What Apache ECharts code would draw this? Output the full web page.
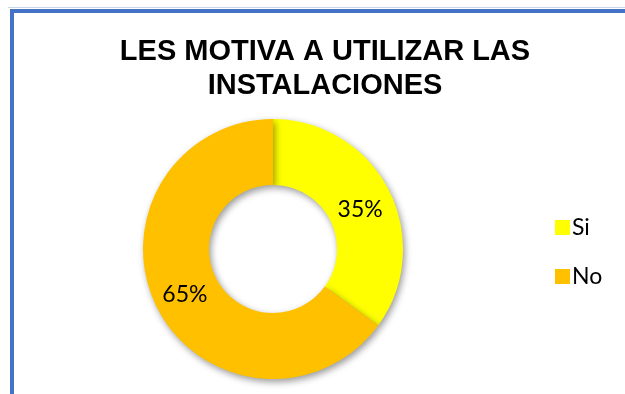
<!DOCTYPE html>
<html>
<head>
<meta charset="utf-8">
<script src="https://cdn.jsdelivr.net/npm/echarts@6/dist/echarts.min.js"></script>
<style>
  html, body { margin: 0; padding: 0; background: #fff; }
  #chart { width: 625px; height: 394px; }
</style>
</head>
<body>
<div id="chart"></div>
<script>
// Survey answers
const categories = ['Si', 'No'];
const shares = [35, 65];
const sliceColors = ['#FFFF00', '#FFC000'];
const chartTitle = 'LES MOTIVA A UTILIZAR LAS\nINSTALACIONES';

const chart = echarts.init(document.getElementById('chart'), null, { renderer: 'canvas' });

// nudge of each percentage label inside its slice
const labelNudge = [[-2, 6], [1, 0]];

const pieData = categories.map((name, i) => ({
  name: name,
  value: shares[i],
  itemStyle: { color: sliceColors[i] },
  label: { offset: labelNudge[i] }
}));

chart.setOption({
  backgroundColor: '#ffffff',
  animation: false,
  graphic: [
    // blue frame along the top and left edges
    { type: 'rect', shape: { x: 10, y: 9, width: 640, height: 4 }, style: { fill: '#4472C4' } },
    { type: 'rect', shape: { x: 10, y: 9, width: 4, height: 400 }, style: { fill: '#4472C4' } },
    { type: 'rect', shape: { x: 8, y: 7, width: 640, height: 1 }, style: { fill: '#C9D6EE' } }
  ],
  title: {
    text: chartTitle,
    left: 320,
    top: 30,
    textAlign: 'center',
    textStyle: {
      fontFamily: 'Liberation Sans',
      fontWeight: 'bold',
      fontSize: 29,
      lineHeight: 34,
      color: '#000000'
    }
  },
  legend: {
    orient: 'vertical',
    left: 550,
    top: 210,
    itemWidth: 15,
    itemHeight: 15,
    itemGap: 24,
    icon: 'rect',
    data: categories,
    textStyle: {
      fontFamily: 'Lato',
      fontSize: 23,
      lineHeight: 25,
      color: '#000000',
      padding: [0, 0, 0, -3]
    }
  },
  series: [{
    type: 'pie',
    center: [273, 249],
    radius: [64, 130],
    startAngle: 90,
    clockwise: true,
    silent: true,
    data: pieData,
    itemStyle: {
      shadowBlur: 7,
      shadowOffsetX: 2,
      shadowOffsetY: 3,
      shadowColor: 'rgba(0,0,0,0.4)'
    },
    label: {
      show: true,
      position: 'inside',
      formatter: p => p.value + '%',
      fontFamily: 'Lato',
      fontSize: 23,
      color: '#000000'
    },
    labelLine: { show: false }
  }]
});
</script>
</body>
</html>
